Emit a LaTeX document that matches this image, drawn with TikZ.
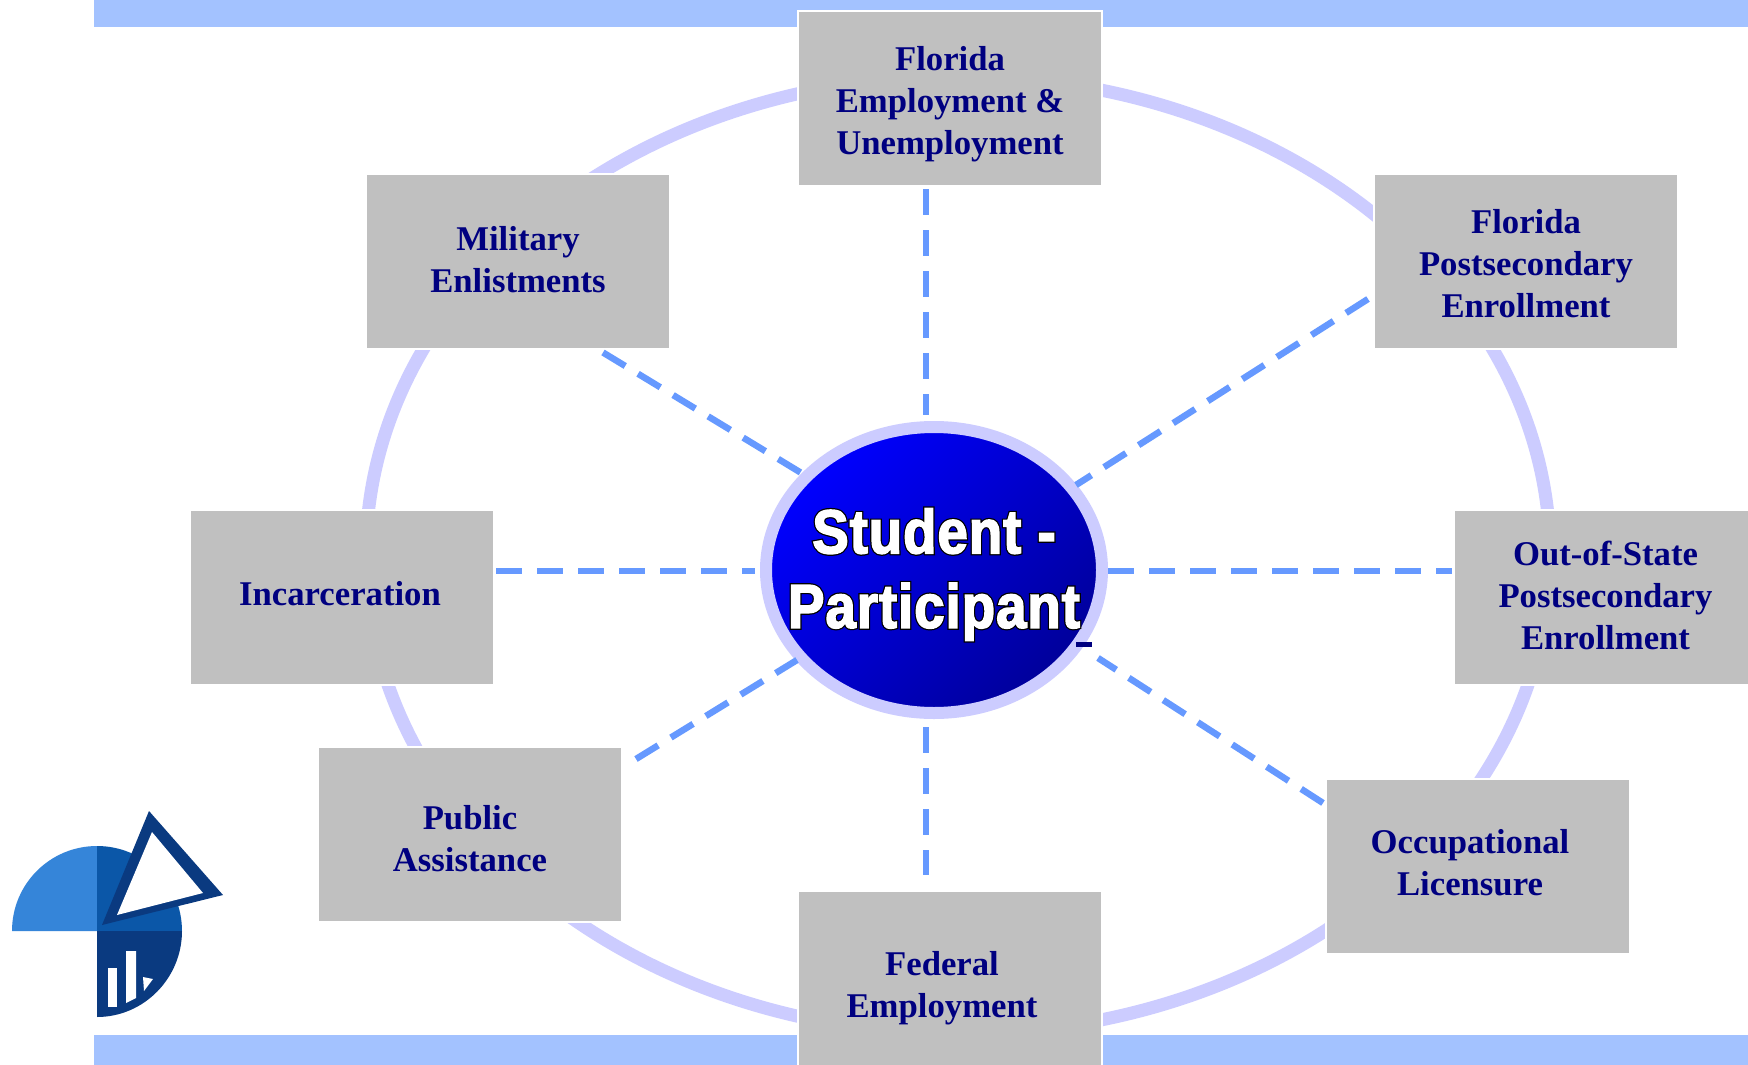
\documentclass[tikz,border=0pt]{standalone}
\usepackage{fontspec}
\setmainfont{Liberation Serif}
\newfontfamily\stublack{Liberation Sans Bold}[FakeStretch=0.88,FakeBold=6.5,LetterSpace=1.6]
\newfontfamily\stuwhite{Liberation Sans Bold}[FakeStretch=0.88,FakeBold=2.5,LetterSpace=1.6]
\usetikzlibrary{shapes.geometric}
\definecolor{barblue}{HTML}{A3C2FF}
\definecolor{ringblue}{HTML}{CCCCFF}
\definecolor{dashblue}{HTML}{6699FF}
\definecolor{boxgray}{HTML}{C0C0C0}
\definecolor{navytext}{HTML}{000080}
\definecolor{ellend}{HTML}{00009A}
\definecolor{logoa}{HTML}{3585D9}
\definecolor{logob}{HTML}{0B57A8}
\definecolor{logoc}{HTML}{0A3A80}
\newcommand\boxtext[3]{\raisebox{#2}[0pt][0pt]{\makebox[0pt]{\kern#1\begin{tabular}{@{}c@{}}#3\end{tabular}}}}
\newcommand\outl[1]{\rlap{\color{black}\stublack\fontsize{62}{75}\selectfont #1}{\color{white}\stuwhite\fontsize{62}{75}\selectfont #1}}
\tikzset{
  gbox/.style={rectangle,fill=boxgray,draw=white,line width=2pt,minimum width=304pt,minimum height=175pt,inner sep=0pt,outer sep=0pt,text=navytext,font=\fontsize{34.7}{42}\selectfont\bfseries},
  dashcon/.style={draw=dashblue,line width=6.5pt,dash pattern=on 26pt off 15pt},
  bigring/.style={draw=ringblue,line width=13pt}
}
\begin{document}
\begin{tikzpicture}[x=1pt,y=-1pt]
\useasboundingbox (0,0) rectangle (1748,1065);
\fill[white] (0,0) rectangle (1748,1065);
% bars
\fill[barblue] (94,0) rectangle (1748,27);
\fill[barblue] (94,1035) rectangle (1748,1065);
% outer ring
\draw[bigring] (958,555) ellipse [x radius=592pt,y radius=479pt];
% boxes
\node[gbox] (topb) at (950,98.5) {\boxtext{0pt}{-12pt}{Florida\\Employment \&\\Unemployment}};
\node[gbox] (mil) at (518,261) {\boxtext{0pt}{-8pt}{Military\\Enlistments}};
\node[gbox] (flp) at (1526,261) {\boxtext{0pt}{-12.5pt}{Florida\\Postsecondary\\Enrollment}};
\node[gbox] (inc) at (342,597.5) {\boxtext{-4pt}{-6pt}{Incarceration}};
\node[gbox] (oos) at (1606,597.5) {\boxtext{-1pt}{-7.5pt}{Out-of-State\\Postsecondary\\Enrollment}};
\node[gbox] (pub) at (470,834) {\boxtext{0pt}{-14.5pt}{Public\\Assistance}};
\node[gbox] (occ) at (1478,866) {\boxtext{-16pt}{-6.5pt}{Occupational\\Licensure}};
\node[gbox] (fed) at (950,978.5) {\boxtext{-16pt}{-16pt}{Federal\\Employment}};
% centre
\node[ellipse,draw=ringblue,line width=12pt,minimum width=336pt,minimum height=286pt,inner sep=0pt,outer sep=0pt,
  left color=blue,right color=ellend,shading angle=45] (ell) at (934,570)
  {\boxtext{0pt}{-7pt}{\outl{Student -}\\[26pt]\outl{Participant}}};
% connectors
\draw[dashcon] ([shift={(-24,3)}]topb.south) -- ([shift={(-8,-12)}]ell.north);
\draw[dashcon] ([shift={(-8,14)}]ell.south) -- ([shift={(-24,-16)}]fed.north);
\draw[dashcon] ([shift={(2,-26.5)}]inc.east) -- ([shift={(-11,1)}]ell.west);
\draw[dashcon] ([shift={(6,1)}]ell.east) -- ([shift={(-2,-26.5)}]oos.west);
\draw[dashcon] ([shift={(85,4)}]mil.south) -- ([shift={(-131,-96)}]ell.center);
\draw[dashcon] ([shift={(-6,38)}]flp.west) -- ([shift={(142,-85)}]ell.center);
\draw[dashcon] ([shift={(14,12.5)}]pub.north east) -- ([shift={(-137,90)}]ell.center);
\draw[dashcon] ([shift={(-3,-63)}]occ.west) -- ([shift={(164,88)}]ell.center);
% small mark
\fill[navytext] (1076,642) rectangle (1092,647);
% logo
\fill[logoa] (12,931) .. controls (12,884) and (50,846) .. (97,846) -- (97,931) -- cycle;
\fill[logob] (97,846) .. controls (144,846) and (182,884) .. (182,931) -- (97,931) -- cycle;
\fill[logoc] (182,931) .. controls (182,978) and (144,1017) .. (97,1017) -- (97,931) -- cycle;
\fill[logoc] (149,811) -- (223,895) -- (102,925) -- cycle;
\fill[white] (152,832) -- (203,893) -- (117,915) -- cycle;
\fill[white] (108,968) rectangle (117,1007);
\fill[white] (126,951) -- (136,951) -- (136,998) -- (126,1003) -- cycle;
\fill[white] (143,977) -- (153,979) -- (144,991) -- cycle;
\end{tikzpicture}
\end{document}
